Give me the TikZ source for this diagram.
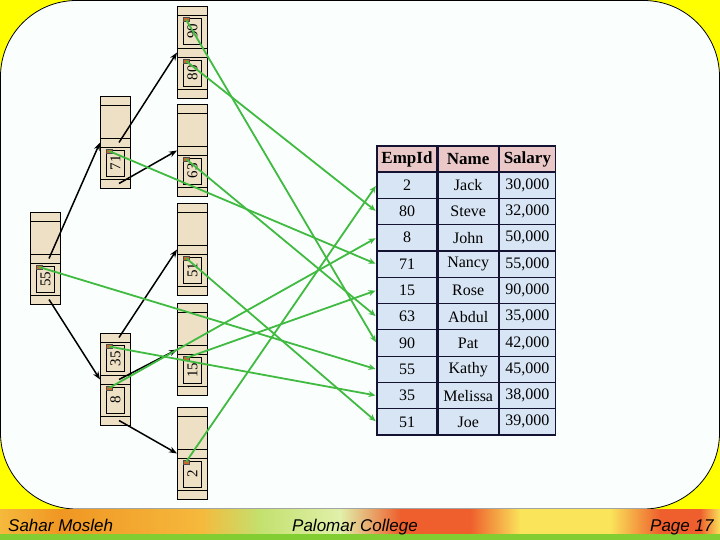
\documentclass[tikz,border=0pt]{standalone}
\usepackage{fontspec}
\setmainfont{Liberation Serif}
\setsansfont{Liberation Sans}
\usetikzlibrary{arrows.meta, positioning, calc}
\definecolor{slideYellow}{RGB}{255,255,0}
\definecolor{slideWhite}{RGB}{250,255,253}
\definecolor{parchment}{RGB}{238,224,196}
\definecolor{keyDot}{RGB}{205,100,40}
\definecolor{linkGreen}{RGB}{64,186,64}
\definecolor{headPink}{RGB}{234,200,200}
\definecolor{rowBlue}{RGB}{216,229,245}
\definecolor{gridNavy}{RGB}{20,20,50}
\definecolor{footGreen}{RGB}{130,205,50}
\definecolor{fOrange}{RGB}{240,150,35}
\definecolor{fAmber}{RGB}{245,185,60}
\definecolor{fLime}{RGB}{195,225,110}
\definecolor{fPale}{RGB}{225,240,170}
\definecolor{fRed}{RGB}{238,95,45}
\definecolor{fLight}{RGB}{250,228,90}
\tikzset{
    treenode/.style={
        rectangle,
        draw=black,
        fill=parchment,
        line width=0.8pt,
        minimum width=30pt,
        minimum height=92pt,
        inner sep=0pt,
        anchor=north west
    },
    keybox/.style={
        rectangle,
        draw=black,
        line width=0.8pt,
        rotate=90,
        minimum width=26pt,
        minimum height=18pt,
        inner sep=0pt,
        font=\fontsize{15}{15}\selectfont
    },
    keydot/.style={
        rectangle,
        draw=black!70,
        fill=keyDot,
        line width=0.4pt,
        minimum width=6pt,
        minimum height=4pt,
        inner sep=0pt
    },
    cell/.style={
        rectangle,
        draw=gridNavy,
        line width=1.2pt,
        fill=rowBlue,
        minimum height=26.3pt,
        inner sep=0pt,
        font=\fontsize{16}{16}\selectfont
    },
    headcell/.style={cell, fill=headPink, minimum height=26pt, font=\fontsize{17}{17}\selectfont\bfseries},
    treearrow/.style={-{Stealth[length=8pt,width=6pt]}, line width=1.5pt, draw=black},
    linkarrow/.style={-{Stealth[length=7pt,width=6pt]}, line width=1.8pt, draw=linkGreen, shorten >=1pt},
    foottext/.style={font=\sffamily\itshape\fontsize{17}{17}\selectfont, anchor=base west, inner sep=0pt}
}
% one sideways tree node: name, x, y, upper key, lower key
\newcommand{\bnode}[5]{%
    \node[treenode] (#1) at (#2,#3) {};
    \foreach \d in {9,42,51,83}
        \draw[line width=0.8pt] (#2,#3+\d) -- ++(30,0);
    \coordinate (#1-p1) at (#2+19,#3+4.5);
    \coordinate (#1-p2) at (#2+19,#3+46.5);
    \coordinate (#1-p3) at (#2+19,#3+87.5);
    \coordinate (#1-in) at (#2,#3+46.5);
    \if\relax\detokenize{#4}\relax\else
        \node[keybox] (#1-ku) at (#2+15.5,#3+25.5) {#4};
        \node[keydot] (#1-du) at (#2+9,#3+13.5) {};
    \fi
    \node[keybox] (#1-kl) at (#2+15.5,#3+67) {#5};
    \node[keydot] (#1-dl) at (#2+9,#3+55) {};
}
\begin{document}
\begin{tikzpicture}[x=1pt, y=-1pt]
    \useasboundingbox (0,0) rectangle (720,540);
    % slide background
    \fill[slideYellow] (0,0) rectangle (720,510);
    \filldraw[fill=slideWhite, draw=black, line width=0.8pt, rounded corners=76pt] (0.5,0.5) rectangle (719.5,509);
    \foreach \xa/\ca/\xb/\cb in {0/fAmber/60/fOrange, 60/fOrange/200/fAmber, 200/fAmber/260/fLime,
        260/fLime/340/fPale, 340/fPale/400/fRed, 400/fRed/470/fRed, 470/fRed/520/fLight,
        520/fLight/610/fLight, 610/fLight/660/fRed, 660/fRed/700/fRed, 700/fRed/720/fLight}
        \shade[left color=\ca, right color=\cb] (\xa,509) rectangle (\xb+0.5,534);
    \fill[footGreen] (0,534) rectangle (720,540);
    \node[foottext] (author) at (8,531) {Sahar Mosleh};
    \node[foottext] (school) at (292,531) {Palomar College};
    \node[foottext] (page) at (650,531) {Page 17};

    % the tree, lying on its side
    \bnode{root}{30}{212}{}{55}
    \bnode{n71}{100}{96}{}{71}
    \bnode{n835}{100}{333}{35}{8}
    \bnode{n9080}{177}{6}{90}{80}
    \bnode{n63}{177}{104}{}{63}
    \bnode{n51}{177}{203}{}{51}
    \bnode{n15}{177}{303}{}{15}
    \bnode{n2}{177}{407}{}{2}

    % the table
    \node[headcell, minimum width=60pt] (hId) at (407,159) {EmpId};
    \node[headcell, minimum width=60pt, right=0pt of hId] (hName) {Name};
    \node[headcell, minimum width=56pt, right=0pt of hName] (hSal) {Salary};
    \foreach \id/\nm/\sal [count=\i] in {2/Jack/30{,}000, 80/Steve/32{,}000, 8/John/50{,}000,
        71/Nancy/55{,}000, 15/Rose/90{,}000, 63/Abdul/35{,}000, 90/Pat/42{,}000,
        55/Kathy/45{,}000, 35/Melissa/38{,}000, 51/Joe/39{,}000} {
        \node[cell, minimum width=60pt] (e\id) at (407,{172+26.3*(\i-0.5)}) {\id};
        \node[cell, minimum width=60pt, right=0pt of e\id] (m\id) {\nm};
        \node[cell, minimum width=56pt, right=0pt of m\id] (s\id) {\sal};
    }

    \draw[treearrow] (root-p2) -- (n71-in);
    \draw[treearrow] (root-p3) -- (n835-in);
    \draw[treearrow] (n71-p2) -- (n9080-in);
    \draw[treearrow] (n71-p3) -- (n63-in);
    \draw[treearrow] (n835-p1) -- (n51-in);
    \draw[treearrow] (n835-p2) -- (n15-in);
    \draw[treearrow] (n835-p3) -- (n2-in);

    \foreach \src/\dst in {n9080-du/e90, n9080-dl/e80, n71-dl/e71, n63-dl/e63, n51-dl/e51,
        root-dl/e55, n835-du/e35, n835-dl/e8, n15-dl/e15, n2-dl/e2}
        \draw[linkarrow] (\src.center) -- (\dst.west);
\end{tikzpicture}
\end{document}
